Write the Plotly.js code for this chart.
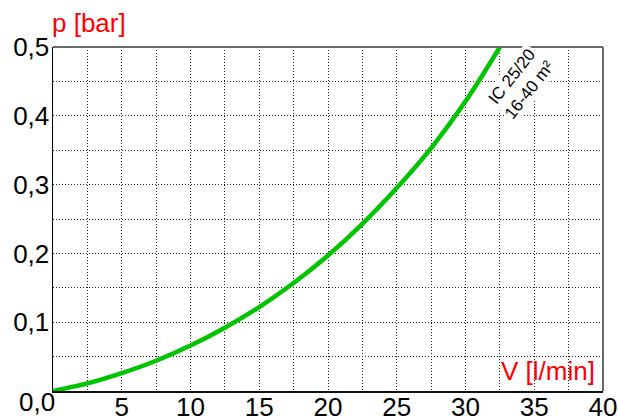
<!DOCTYPE html>
<html>
<head>
<meta charset="utf-8">
<script src="https://cdn.plot.ly/plotly-3.0.1.min.js"></script>
<style>html,body{margin:0;padding:0;background:#fff;}#chart{width:618px;height:416px;}</style>
</head>
<body>
<div id="chart"></div>
<script>
// Flow rate V [l/min]
const flow = [0, 2.5, 5, 7.5, 10, 12.5, 15, 17.5, 20, 22.5, 25, 27.5, 30, 32.5];
// Pressure drop p [bar]
const pressure = [0, 0.011, 0.026, 0.044, 0.066, 0.092, 0.122, 0.157, 0.197, 0.243, 0.295, 0.353, 0.421, 0.500];

const xTickVals = [0, 2.5, 5, 7.5, 10, 12.5, 15, 17.5, 20, 22.5, 25, 27.5, 30, 32.5, 35, 37.5, 40];
const xTickText = ['', '', '5', '', '10', '', '15', '', '20', '', '25', '', '30', '', '35', '', '40'];
const yTickVals = [0, 0.05, 0.1, 0.15, 0.2, 0.25, 0.3, 0.35, 0.4, 0.45, 0.5];
const yTickText = ['', '', '0,1', '', '0,2', '', '0,3', '', '0,4', '', '0,5'];

const seriesLabel = 'IC 25/20<br>16-40 m²';
const xTitle = 'V [l/min]';
const yTitle = 'p [bar]';
const originLabel = '0,0';

const font = 'Liberation Sans, Arial, sans-serif';
const gridStyle = {showgrid: true, gridcolor: '#222', gridwidth: 1, griddash: '1px,2px'};

const data = [{
  x: flow, y: pressure, type: 'scatter', mode: 'lines',
  line: {color: '#00C400', width: 4.5, shape: 'spline', smoothing: 1},
  hoverinfo: 'skip', showlegend: false
}];

const layout = {
  width: 618, height: 416,
  margin: {l: 53, r: 15, t: 47, b: 25, pad: 0},
  paper_bgcolor: '#fff', plot_bgcolor: '#fff',
  font: {family: font, size: 26, color: '#000'},
  xaxis: Object.assign({
    range: [0, 40], tickmode: 'array', tickvals: xTickVals, ticktext: xTickText,
    showline: true, linecolor: '#111', linewidth: 1.5, zeroline: false,
    ticks: '', ticklabelstandoff: -8, tickfont: {size: 26, color: '#000'}, fixedrange: true
  }, gridStyle),
  yaxis: Object.assign({
    range: [0, 0.5], tickmode: 'array', tickvals: yTickVals, ticktext: yTickText,
    showline: true, linecolor: '#000', linewidth: 1.5, zeroline: false,
    ticks: '', ticklabelstandoff: -3, tickfont: {size: 26, color: '#000'}, fixedrange: true
  }, gridStyle),
  shapes: [
    {type: 'line', xref: 'paper', yref: 'paper', x0: 0, x1: 1, y0: 1, y1: 1, line: {color: '#6a6a6a', width: 2}, layer: 'above'},
    {type: 'line', xref: 'paper', yref: 'paper', x0: 1, x1: 1, y0: 0, y1: 1, line: {color: '#6a6a6a', width: 2}, layer: 'above'}
  ],
  annotations: [
    {text: yTitle, xref: 'paper', yref: 'paper', x: 0, y: 1, xanchor: 'left', yanchor: 'bottom',
     xshift: -3, yshift: 7, showarrow: false, font: {family: font, size: 26, color: '#ff0000'}},
    {text: xTitle, xref: 'paper', yref: 'paper', x: 1, y: 0, xanchor: 'right', yanchor: 'bottom',
     xshift: -6, yshift: 3, showarrow: false, font: {family: font, size: 26, color: '#ff0000'}},
    {text: originLabel, xref: 'paper', yref: 'paper', x: -0.0282, y: 0, xanchor: 'center', yanchor: 'top',
     yshift: 6, showarrow: false, font: {family: font, size: 26, color: '#000'}},
    {text: seriesLabel, xref: 'paper', yref: 'paper', x: 0.85, y: 0.893, xanchor: 'center', yanchor: 'middle',
     textangle: -52, showarrow: false, bgcolor: '#fff', borderpad: 0,
     font: {family: font, size: 17, color: '#000'}}
  ]
};

Plotly.newPlot('chart', data, layout, {displayModeBar: false, staticPlot: true});
</script>
</body>
</html>
